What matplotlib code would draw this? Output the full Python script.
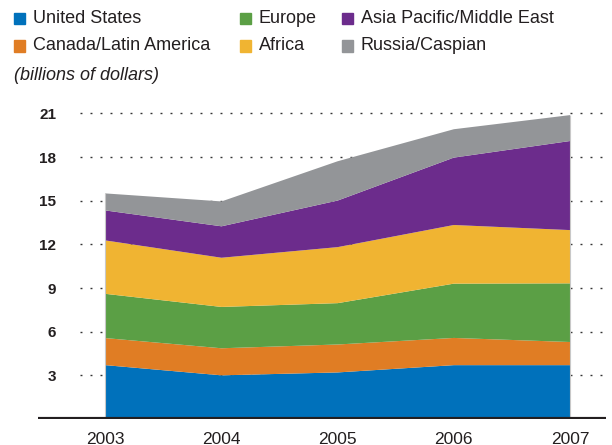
import numpy as np
import matplotlib
matplotlib.use("Agg")
import matplotlib.pyplot as plt
from matplotlib.patches import Rectangle

plt.rcParams['font.family'] = ['Liberation Sans', 'DejaVu Sans']

years = [2003, 2004, 2005, 2006, 2007]
regions = ["United States", "Canada/Latin America", "Europe", "Africa",
           "Asia Pacific/Middle East", "Russia/Caspian"]
united_states = [3.7, 3.0, 3.2, 3.7, 3.7]
canada_latam = [1.86, 1.86, 1.92, 1.87, 1.59]
europe = [3.04, 2.84, 2.84, 3.73, 4.03]
africa = [3.67, 3.38, 3.85, 4.03, 3.66]
asia_me = [2.06, 2.16, 3.2, 4.63, 6.12]
russia = [1.17, 1.71, 2.7, 1.95, 1.78]
yticks = [3, 6, 9, 12, 15, 18, 21]

colors = ["#0071bb", "#e07d24", "#5b9f45", "#f0b432", "#6c2c8c", "#939598"]

W, H = 612, 445
fig = plt.figure(figsize=(W / 100, H / 100), dpi=100)
ax = fig.add_axes([38 / W, (H - 419) / H, (606 - 38) / W, (419 - 109) / H])

series = [united_states, canada_latam, europe, africa, asia_me, russia]
ax.stackplot(years, *series, colors=colors, linewidth=0, zorder=2)

# faint edge on the two ends of the stack
totals = np.sum(series, axis=0)
ax.vlines([years[0], years[-1]], 0, [totals[0], totals[-1]],
          color="#c8c8c8", lw=0.8, zorder=2.5)

for y in yticks:
    ax.axhline(y, xmin=(80 - 38) / (606 - 38), xmax=1.0, color="#333333", lw=1,
               linestyle=(0, (1.4, 5.8)), zorder=1)

ax.axhline(0, color="#231f20", lw=3, zorder=3)

ax.set_xlim(2002.42, 2007.31)
ax.set_ylim(0, 21.3)
ax.set_xticks(years)
ax.set_xticklabels([str(y) for y in years], fontsize=12.5)
ax.set_yticks(yticks)
ax.set_yticklabels([str(y) for y in yticks], fontsize=11, fontweight="bold")
ax.tick_params(axis="x", length=0, pad=9, colors="#231f20")
ax.tick_params(axis="y", length=0, pad=-13, colors="#231f20")
for s in ax.spines.values():
    s.set_visible(False)

# legend, laid out by hand in figure pixels
legend_pos = [(14, 18.5), (14, 46), (240, 18.5), (240, 46), (342, 18.5), (342, 46)]
for (x, y), name, c in zip(legend_pos, regions, colors):
    fig.patches.append(Rectangle((x / W, (H - y - 5.5) / H), 11 / W, 11 / H,
                                 transform=fig.transFigure, color=c))
    fig.text((x + 19) / W, (H - y) / H, name, fontsize=13, va="center",
             color="#231f20")
fig.text(14 / W, (H - 76) / H, "(billions of dollars)", fontsize=13,
         style="italic", va="center", color="#231f20")

fig.savefig("out.png", dpi=100)
